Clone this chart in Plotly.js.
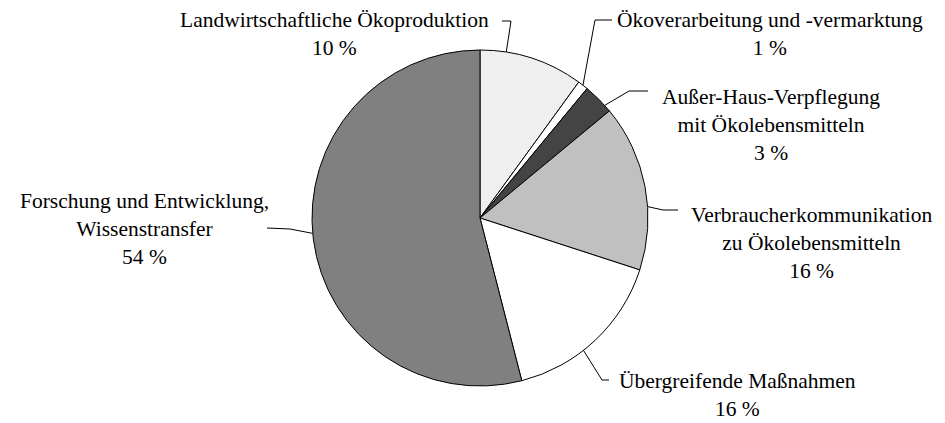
<!DOCTYPE html>
<html>
<head>
<meta charset="utf-8">
<script src="https://cdn.plot.ly/plotly-3.0.1.min.js"></script>
<style>html,body{margin:0;padding:0;background:#fff;}#chart{width:945px;height:423px;}</style>
</head>
<body>
<div id="chart"></div>
<script>
// ---- data ----
const categories = [
  "Landwirtschaftliche Ökoproduktion",
  "Ökoverarbeitung und -vermarktung",
  "Außer-Haus-Verpflegung<br>mit Ökolebensmitteln",
  "Verbraucherkommunikation<br>zu Ökolebensmitteln",
  "Übergreifende Maßnahmen",
  "Forschung und Entwicklung,<br>Wissenstransfer"
];
const shares = [10, 1, 3, 16, 16, 54];
const valueLabels = ["10 %", "1 %", "3 %", "16 %", "16 %", "54 %"];

// ---- styling / layout ----
const W = 945, H = 423;
const CX = 480, CY = 218, R = 168;
const FONT = "Liberation Serif";
const fills = ["#efefef", "#ffffff", "#444444", "#c0c0c0", "#ffffff", "#808080"];
const patterns = ["", "-", "", "", "|", ""];
const labelX = [334, 770, 771, 811, 737, 144];
const labelFirstLineY = [20, 20, 97, 215, 381, 202];
const leaderFrac = [0.25, 0.5, 0.77, 0.62, 0.59, 0.51];
const leaderElbow = [[511, 21], [595, 20], [629, 91], [663, 210], [602, 380], [290, 229]];
const leaderEnd = [[502, 21], [612, 20], [648, 91], [678, 210], [609, 380], [267, 228]];

const px = x => x / W;
const py = y => 1 - y / H;

const total = shares.reduce((a, b) => a + b, 0);
const shapes = [];
const annotations = [];
let cum = 0;
shares.forEach((v, i) => {
  const ang = (cum + v * leaderFrac[i]) / total * 2 * Math.PI;
  cum += v;
  const ex = CX + R * Math.sin(ang);
  const ey = CY - R * Math.cos(ang);
  const seg = (a, b) => shapes.push({type: "line", xref: "paper", yref: "paper",
    x0: px(a[0]), y0: py(a[1]), x1: px(b[0]), y1: py(b[1]),
    line: {color: "#000", width: 1}});
  seg([ex, ey], leaderElbow[i]);
  seg(leaderElbow[i], leaderEnd[i]);

  const lines = categories[i].split("<br>").length + 1;
  const lh = 27.5;
  const midY = labelFirstLineY[i] + (lines - 1) * lh / 2;
  annotations.push({
    xref: "paper", yref: "paper", x: px(labelX[i]), y: py(midY),
    xanchor: "center", yanchor: "middle", align: "center", showarrow: false,
    text: categories[i] + "<br>" + valueLabels[i],
    font: {family: FONT, size: 21.5, color: "#000000"}
  });
});

const data = [{
  type: "pie",
  labels: categories,
  values: shares,
  sort: false,
  direction: "clockwise",
  rotation: 0,
  textinfo: "none",
  hoverinfo: "label+percent",
  showlegend: false,
  domain: {x: [px(CX - R), px(CX + R)], y: [py(CY + R), py(CY - R)]},
  marker: {
    colors: fills,
    line: {color: "#000", width: 1}
  }
}];

const layout = {
  width: W, height: H,
  margin: {l: 0, r: 0, t: 0, b: 0},
  paper_bgcolor: "#fff", plot_bgcolor: "#fff",
  showlegend: false,
  shapes: shapes,
  annotations: annotations
};

Plotly.newPlot("chart", data, layout, {displayModeBar: false});
</script>
</body>
</html>
